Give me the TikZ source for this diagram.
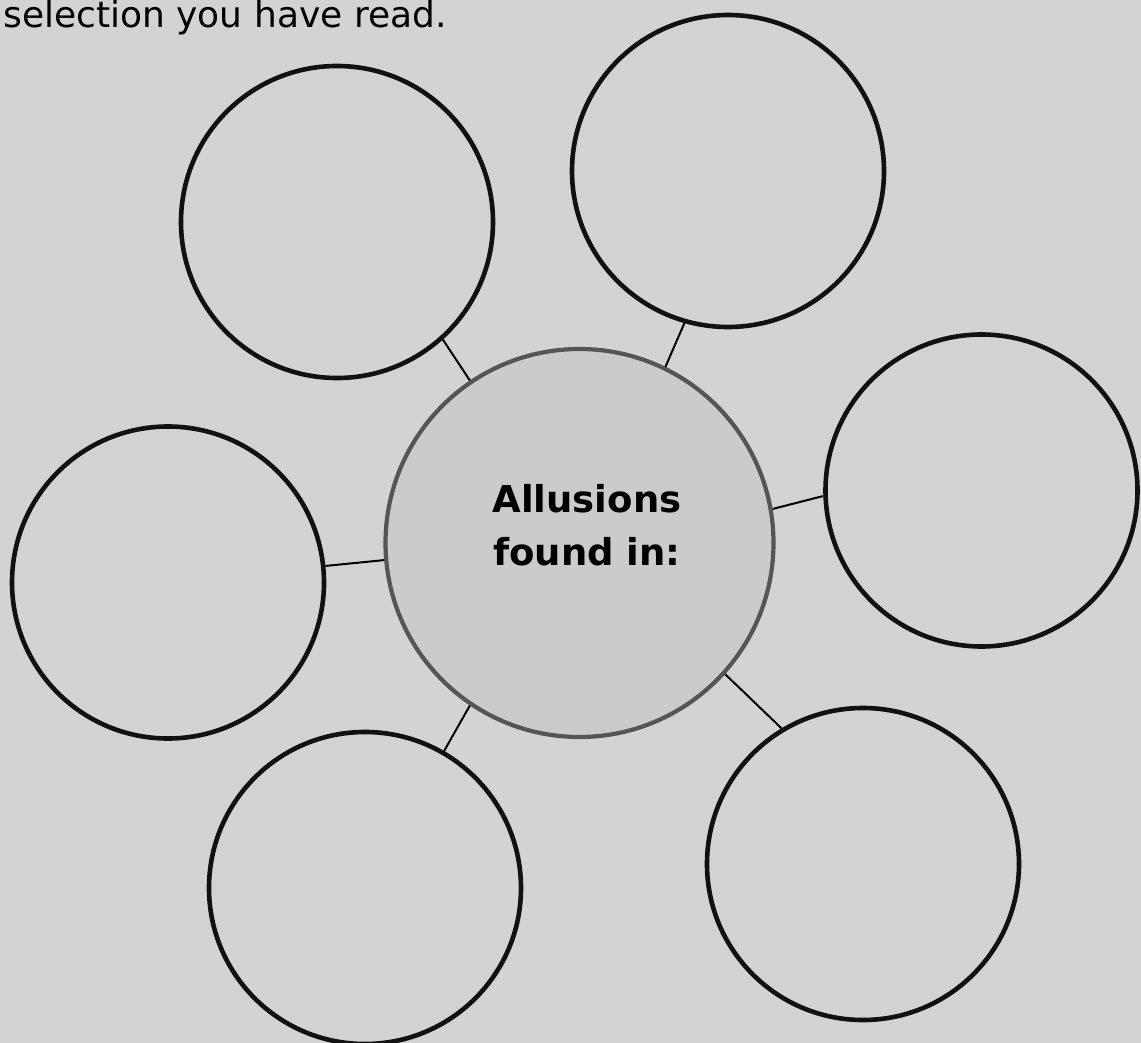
\documentclass[tikz,border=0pt]{standalone}
\usepackage{fontspec}
\setmainfont{DejaVu Sans}
\usetikzlibrary{positioning}
\definecolor{WebBack}{RGB}{211, 211, 211}
\definecolor{WebHub}{RGB}{203, 203, 203}
\definecolor{WebHubLine}{RGB}{85, 85, 85}
\definecolor{WebLine}{RGB}{17, 17, 17}

\tikzset{
  spoke/.style={circle, draw=WebLine, line width=2.3pt, minimum size=156pt, inner sep=0pt},
  hubcircle/.style={circle, fill=WebHub, draw=WebHubLine, line width=2.1pt, minimum size=194pt, inner sep=0pt},
  link/.style={draw=black, line width=1pt}
}

\begin{document}
\begin{tikzpicture}[x=0.5pt, y=-0.5pt]
    \fill[WebBack] (0,0) rectangle (1141,1043);
    \useasboundingbox (0,0) rectangle (1141,1043);

    \node[anchor=base west, inner sep=0pt, font=\fontsize{18}{22}\selectfont] (intro) at (3,28)
      {selection you have read.};

    \node[hubcircle] (hub) at (579.5,543) {};
    \node[align=center, inner sep=0pt, font=\fontsize{18.5}{26.5}\selectfont\bfseries] (title)
      at ([xshift=3.75pt, yshift=8.75pt]hub.center) {Allusions\\found in:};

    \node[spoke] (tl) at (337,222) {};
    \node[spoke] (tr) at (728,171) {};
    \node[spoke] (rt) at (981.5,490.5) {};
    \node[spoke] (lf) at (168,582.5) {};
    \node[spoke] (bl) at (365,888) {};
    \node[spoke] (br) at (863,864) {};

    \draw[link] (tl.-48) -- (hub.124);
    \draw[link] (tr.-106.5) -- (hub.64);
    \draw[link] (hub.10.7) -- (rt.182.4);
    \draw[link] (lf.6.7) -- (hub.185.3);
    \draw[link] (hub.236.5) -- (bl.60.4);
    \draw[link] (hub.318.2) -- (br.121.6);
  \end{tikzpicture}
\end{document}
